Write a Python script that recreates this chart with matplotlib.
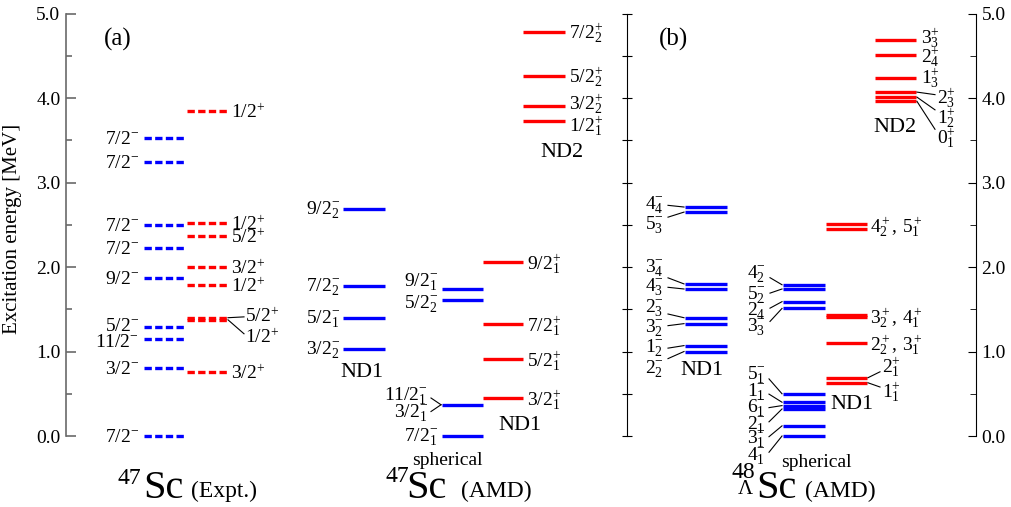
import matplotlib
matplotlib.use('Agg')
import matplotlib.pyplot as plt
from matplotlib.ticker import FixedLocator

plt.rcParams['font.family'] = ['Liberation Serif', 'DejaVu Serif']
plt.rcParams['mathtext.fontset'] = 'custom'
plt.rcParams['mathtext.rm'] = 'Liberation Serif'
plt.rcParams['mathtext.it'] = 'Liberation Serif:italic'
plt.rcParams['mathtext.bf'] = 'Liberation Serif:bold'

# -------------------------------------------
# Level energies [MeV] and spin-parity labels
# -------------------------------------------
# 47Sc experiment
expt_neg_E = [0.0, 0.81, 1.15, 1.29, 1.87, 2.23, 2.50, 3.24, 3.53]
expt_neg_J = ['7/2', '3/2', '11/2', '5/2', '9/2', '7/2', '7/2', '7/2', '7/2']
expt_pos_E = [0.76, 1.79, 2.00, 2.37, 2.52, 3.85]
expt_pos_J = ['3/2', '1/2', '3/2', '5/2', '1/2', '1/2']
expt_pair_E = [1.40, 1.375]          # 5/2+, 1/2+ doublet
expt_pair_J = ['5/2', '1/2']

# 47Sc AMD
amd_nd1_neg_E = [1.03, 1.40, 1.78, 2.69]
amd_nd1_neg_J = ['3/2_2', '5/2_1', '7/2_2', '9/2_2']
amd_sph_E = [0.0, 1.61, 1.74]
amd_sph_J = ['7/2_1', '5/2_2', '9/2_1']
amd_sph_pair_E = [0.37, 0.37]
amd_sph_pair_J = ['11/2_1', '3/2_1']
amd_nd1_pos_E = [0.45, 0.91, 1.32, 2.06]
amd_nd1_pos_J = ['3/2_1', '5/2_1', '7/2_1', '9/2_1']
amd_nd2_E = [3.73, 3.91, 4.26, 4.78]
amd_nd2_J = ['1/2_1', '3/2_2', '5/2_2', '7/2_2']

# 48_Lambda Sc AMD
hyp_nd1_E = [2.71, 2.65, 1.80, 1.74, 1.40, 1.33, 1.07, 1.00]
hyp_nd1_J = ['4_4', '5_3', '3_4', '4_3', '2_3', '3_2', '1_2', '2_2']
hyp_sph_hi_E = [1.79, 1.74, 1.59, 1.51]
hyp_sph_hi_J = ['4_2', '5_2', '2_4', '3_3']
hyp_sph_lo_E = [0.50, 0.40, 0.36, 0.32, 0.12, 0.0]
hyp_sph_lo_J = ['5_1', '1_1', '6_1', '2_1', '3_1', '4_1']
hyp_pos_E = [2.51, 2.45, 1.43, 1.405, 1.10]
hyp_pos_text = ['4^+_2,\\,5^+_1', '3^+_2,\\,4^+_1', '2^+_2,\\,3^+_1']
hyp_pos_pair_E = [0.69, 0.63]
hyp_pos_pair_J = ['2_1', '1_1']
hyp_nd2_E = [4.69, 4.51, 4.24]
hyp_nd2_J = ['3_3', '2_4', '1_3']
hyp_nd2_pair_E = [4.07, 4.01, 3.96]
hyp_nd2_pair_J = ['2_3', '1_2', '0_1']

major_ticks = [0.0, 1.0, 2.0, 3.0, 4.0, 5.0]
minor_ticks = [0.5, 1.5, 2.5, 3.5, 4.5]

BLUE = '#0000ff'
RED = '#ff0000'
LW = 2.4
FS = 14
DASH = (0, (2.2, 1.0))


def lab(j, sign):
    return r'$' + j + '^{' + sign + '}$'


fig = plt.figure(figsize=(10.11, 5.07), dpi=100)
ax = fig.add_axes([0, 0, 1, 1])
ax.set_xlim(0, 1011)
ax.set_ylim(-0.84, 5.16)

# axes: left (grey, labelled), middle (no labels), right (labelled)
for s in ['top', 'bottom', 'right']:
    ax.spines[s].set_visible(False)
ax.spines['left'].set_position(('data', 66))
ax.spines['left'].set_bounds(0, 5)
ax.spines['left'].set_color('dimgray')
ax.spines['left'].set_linewidth(1.2)
ax.set_xticks([])
ax.yaxis.set_major_locator(FixedLocator(major_ticks))
ax.yaxis.set_minor_locator(FixedLocator(minor_ticks))
ax.yaxis.set_major_formatter('{x:.1f}')
ax.tick_params(axis='y', which='major', direction='in', length=7, width=1.2,
               color='dimgray', labelsize=FS, pad=4)
ax.tick_params(axis='y', which='minor', direction='in', length=4, width=1.2,
               color='dimgray')
ax.set_ylabel('Excitation energy [MeV]', fontsize=15)
ax.yaxis.set_label_coords(22 / 1011, 0.548)

axr = ax.twinx()
axr.set_ylim(ax.get_ylim())
for s in ['top', 'bottom', 'left']:
    axr.spines[s].set_visible(False)
axr.spines['right'].set_position(('data', 976))
axr.spines['right'].set_bounds(0, 5)
axr.yaxis.set_major_locator(FixedLocator(major_ticks))
axr.yaxis.set_minor_locator(FixedLocator(minor_ticks))
axr.yaxis.set_major_formatter('{x:.1f}')
axr.tick_params(axis='y', which='major', direction='in', length=6,
                labelsize=FS, pad=4)
axr.tick_params(axis='y', which='minor', direction='in', length=4)

axm = ax.twinx()
axm.set_ylim(ax.get_ylim())
for s in ['top', 'bottom', 'left']:
    axm.spines[s].set_visible(False)
axm.spines['right'].set_position(('data', 627))
axm.spines['right'].set_bounds(0, 5)
axm.yaxis.set_major_locator(FixedLocator(sorted(major_ticks + minor_ticks)))
axm.tick_params(axis='y', which='major', direction='inout', length=7,
                labelright=False)


def levels(x0, x1, E, color, ls='-'):
    ax.hlines(E, x0, x1, colors=color, lw=LW, linestyles=ls)


def leader(xa, ya, xb, yb):
    ax.plot([xa, xb], [ya, yb], color='k', lw=0.8)


# ---------------- (a) 47Sc Expt. ----------------
levels(144, 185, expt_neg_E, BLUE, DASH)
levels(187, 228, expt_pos_E + expt_pair_E, RED, DASH)
neg_lab_E = [-0.02, 0.79, 1.11, 1.30, 1.85, 2.21, 2.48, 3.22, 3.51]
for e, j, ly in zip(expt_neg_E, expt_neg_J, neg_lab_E):
    ax.text(139, ly, lab(j, '-'), ha='right', va='center', fontsize=FS)
for e, j in zip(expt_pos_E, expt_pos_J):
    ax.text(231, e - 0.02, lab(j, '+'), ha='left', va='center', fontsize=FS)
for e, j, ly in zip(expt_pair_E, expt_pair_J, [1.41, 1.17]):
    ax.text(245, ly, lab(j, '+'), ha='left', va='center', fontsize=FS)
    leader(228, e, 244, ly if ly > 1.3 else ly + 0.04)

# ---------------- 47Sc AMD ----------------
levels(343, 385, amd_nd1_neg_E, BLUE)
for e, j in zip(amd_nd1_neg_E, amd_nd1_neg_J):
    ax.text(340, e - 0.02, lab(j, '-'), ha='right', va='center', fontsize=FS)
ax.text(362, 0.75, 'ND1', ha='center', va='center', fontsize=16)

levels(442, 483, amd_sph_E + amd_sph_pair_E[:1], BLUE)
for e, j, ly in zip(amd_sph_E, amd_sph_J, [-0.02, 1.56, 1.82]):
    ax.text(438, ly, lab(j, '-'), ha='right', va='center', fontsize=FS)
for e, j, ly in zip(amd_sph_pair_E, amd_sph_pair_J, [0.47, 0.27]):
    ax.text(428, ly, lab(j, '-'), ha='right', va='center', fontsize=FS)
    leader(431, ly - 0.02 if ly > 0.4 else ly + 0.02, 441, e)
ax.text(447, -0.29, 'spherical', ha='center', va='center', fontsize=FS)

levels(483, 523, amd_nd1_pos_E, RED)
for e, j in zip(amd_nd1_pos_E, amd_nd1_pos_J):
    ax.text(527, e - 0.02, lab(j, '+'), ha='left', va='center', fontsize=FS)
ax.text(520, 0.13, 'ND1', ha='center', va='center', fontsize=16)

levels(523, 565, amd_nd2_E, RED)
for e, j, ly in zip(amd_nd2_E, amd_nd2_J, [3.67, 3.93, 4.25, 4.77]):
    ax.text(569, ly, lab(j, '+'), ha='left', va='center', fontsize=FS)
ax.text(562, 3.35, 'ND2', ha='center', va='center', fontsize=16)

# ---------------- (b) 48_Lambda Sc AMD ----------------
levels(685, 727, hyp_nd1_E, BLUE)
nd1_lab_E = [2.73, 2.50, 1.98, 1.76, 1.51, 1.27, 1.04, 0.79]
for e, j, ly in zip(hyp_nd1_E, hyp_nd1_J, nd1_lab_E):
    ax.text(664, ly, lab(j, '-'), ha='right', va='center', fontsize=FS)
    leader(668, ly + 0.6 * (e - ly) if abs(e - ly) > 0.05 else ly, 684, e)
ax.text(702, 0.78, 'ND1', ha='center', va='center', fontsize=16)

levels(783, 825, hyp_sph_hi_E, BLUE)
sph_hi_lab_E = [1.91, 1.67, 1.48, 1.29]
for e, j, ly in zip(hyp_sph_hi_E, hyp_sph_hi_J, sph_hi_lab_E):
    ax.text(766, ly, lab(j, '-'), ha='right', va='center', fontsize=FS)
    leader(770, ly + 0.3 * (e - ly), 782, e)

levels(783, 825, hyp_sph_lo_E, BLUE)
sph_lo_lab_E = [0.72, 0.52, 0.33, 0.13, -0.04, -0.24]
for e, j, ly in zip(hyp_sph_lo_E, hyp_sph_lo_J, sph_lo_lab_E):
    ax.text(766, ly, lab(j, '-'), ha='right', va='center', fontsize=FS)
    leader(769, ly + 0.2 * (e - ly), 782, e)
ax.text(816, -0.31, 'spherical', ha='center', va='center', fontsize=FS)

levels(826, 867, hyp_pos_E + hyp_pos_pair_E, RED)
for t, e in zip(hyp_pos_text, [2.47, 1.40, 1.08]):
    ax.text(870, e, '$' + t + '$', ha='left', va='center', fontsize=FS)
for e, j, ly in zip(hyp_pos_pair_E, hyp_pos_pair_J, [0.82, 0.52]):
    ax.text(882, ly, lab(j, '+'), ha='left', va='center', fontsize=FS)
    leader(868, e, 880, ly - 0.06 if ly > 0.7 else ly + 0.06)
ax.text(852, 0.37, 'ND1', ha='center', va='center', fontsize=16)

levels(875, 916, hyp_nd2_E + hyp_nd2_pair_E, RED)
for e, j, ly in zip(hyp_nd2_E, hyp_nd2_J, [4.71, 4.49, 4.24]):
    ax.text(921, ly, lab(j, '+'), ha='left', va='center', fontsize=FS)
for e, j, ly in zip(hyp_nd2_pair_E, hyp_nd2_pair_J, [4.00, 3.76, 3.53]):
    ax.text(937, ly, lab(j, '+'), ha='left', va='center', fontsize=FS)
    leader(917, e, 935, ly + 0.04 if ly > 3.9 else ly + 0.1)
ax.text(895, 3.65, 'ND2', ha='center', va='center', fontsize=16)

# ---------------- panel tags and nucleus names ----------------
ax.text(118, 4.69, '(a)', ha='center', va='center', fontsize=18)
ax.text(674, 4.69, '(b)', ha='center', va='center', fontsize=18)

ax.text(117, -0.57, '47', ha='left', va='baseline', fontsize=17)
ax.text(143, -0.73, 'Sc', ha='left', va='baseline', fontsize=29)
ax.text(191, -0.72, '(Expt.)', ha='left', va='baseline', fontsize=17)

ax.text(385, -0.54, '47', ha='left', va='baseline', fontsize=17)
ax.text(406, -0.73, 'Sc', ha='left', va='baseline', fontsize=29)
ax.text(461, -0.72, '(AMD)', ha='left', va='baseline', fontsize=17)

ax.text(731, -0.50, '48', ha='left', va='baseline', fontsize=17)
ax.text(737, -0.69, '$\\Lambda$', ha='left', va='baseline', fontsize=15)
ax.text(756, -0.73, 'Sc', ha='left', va='baseline', fontsize=29)
ax.text(805, -0.72, '(AMD)', ha='left', va='baseline', fontsize=17)

fig.savefig('out.png', dpi=100)
